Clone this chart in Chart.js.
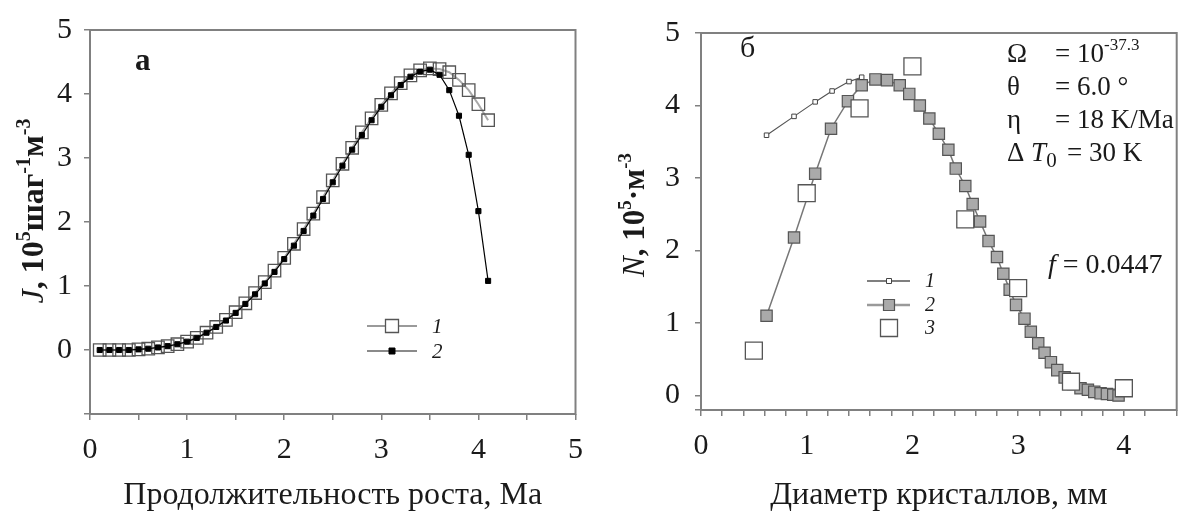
<!DOCTYPE html>
<html><head><meta charset="utf-8">
<script src="https://cdn.jsdelivr.net/npm/chart.js@4.4.1/dist/chart.umd.min.js"></script>
<style>
html,body{margin:0;padding:0;background:#fff;}
#wrap{position:relative;width:1190px;height:515px;overflow:hidden;}
.pane{position:absolute;top:0;width:595px;height:515px;}
</style></head><body>
<div id="wrap">
<div class="pane" style="left:0"><canvas id="cA" width="595" height="515"></canvas></div>
<div class="pane" style="left:595px"><canvas id="cB" width="595" height="515"></canvas></div>
</div>
<script>
// ---------- Panel а : rate J vs growth duration ----------
const timeA = [0.1,0.2,0.3,0.4,0.5,0.6,0.7,0.8,0.9,1.0,1.1,1.2,1.3,1.4,1.5,1.6,1.7,1.8,1.9,2.0,
               2.1,2.2,2.3,2.4,2.5,2.6,2.7,2.8,2.9,3.0,3.1,3.2,3.3,3.4,3.5,3.6,3.7,3.8,3.9,4.0,4.1];
const jSeries1 = [0.00,0.00,0.00,0.00,0.01,0.02,0.04,0.06,0.09,0.13,0.19,0.27,0.36,0.47,0.59,0.73,0.89,1.06,1.24,1.44,
                  1.66,1.89,2.13,2.39,2.65,2.91,3.16,3.40,3.62,3.83,4.01,4.17,4.29,4.37,4.40,4.39,4.34,4.22,4.06,3.84,3.59];
const jSeries2 = [0.00,0.00,0.00,0.00,0.01,0.02,0.04,0.06,0.09,0.13,0.19,0.27,0.36,0.46,0.58,0.72,0.87,1.04,1.22,1.42,
                  1.63,1.86,2.10,2.36,2.62,2.88,3.13,3.36,3.59,3.80,3.98,4.14,4.27,4.35,4.38,4.30,4.06,3.66,3.05,2.17,1.08];
const xTickLabelsA = [0,1,2,3,4,5];
const yTickLabelsA = [0,1,2,3,4,5];

// ---------- Panel б : crystal size distribution ----------
const diam1 = [0.62,0.88,1.08,1.24,1.40,1.52];
const nSeries1 = [3.59,3.85,4.05,4.20,4.33,4.39];
const diam2 = [0.62,0.88,1.08,1.23,1.39,1.52,1.65,1.76,1.88,1.97,2.07,2.16,2.25,2.34,2.41,2.50,2.57,2.64,2.72,2.80,
               2.86,2.92,2.98,3.06,3.12,3.19,3.25,3.31,3.37,3.44,3.52,3.59,3.66,3.72,3.78,3.84,3.90,3.95];
const nSeries2 = [1.10,2.18,3.06,3.68,4.06,4.28,4.36,4.35,4.28,4.16,4.00,3.82,3.61,3.39,3.13,2.89,2.64,2.40,2.13,1.91,
                  1.68,1.46,1.25,1.06,0.88,0.72,0.59,0.46,0.35,0.25,0.16,0.10,0.08,0.05,0.03,0.02,0.01,0.00];
const diam3 = [0.5,1.0,1.5,2.0,2.5,3.0,3.5,4.0];
const nSeries3 = [0.62,2.79,3.96,4.54,2.43,1.48,0.19,0.10];
const xTickLabelsB = [0,1,2,3,4];
const yTickLabelsB = [0,1,2,3,4,5];

const SERIF = '"Liberation Serif","Times New Roman",serif';
const F = (style, size) => `${style} ${size}px ${SERIF}`;
const TXT = '#1a1a1a';
const AX = '#808080';

const pts = (xs, ys) => xs.map((x, i) => ({x, y: ys[i]}));
const labelIf = (list) => (v) => {
  const r = Math.round(v);
  return (Math.abs(v - r) < 1e-6 && list.includes(r)) ? String(r) : '';
};

function rich(ctx, segs, x, y, align, rot) {
  ctx.save();
  ctx.translate(x, y);
  if (rot) ctx.rotate(rot);
  let w = 0;
  segs.forEach(s => { ctx.font = s.f; s.w = ctx.measureText(s.t).width; w += s.w; });
  let cx = align === 'center' ? -w / 2 : (align === 'right' ? -w : 0);
  ctx.textBaseline = 'alphabetic';
  ctx.textAlign = 'left';
  segs.forEach(s => { ctx.font = s.f; ctx.fillStyle = s.c || TXT; ctx.fillText(s.t, cx, s.dy || 0); cx += s.w; });
  ctx.restore();
}
function sq(ctx, x, y, side, fill, stroke, lw) {
  ctx.beginPath(); ctx.rect(x - side / 2, y - side / 2, side, side);
  if (fill) { ctx.fillStyle = fill; ctx.fill(); }
  if (stroke) { ctx.strokeStyle = stroke; ctx.lineWidth = lw; ctx.stroke(); }
}
function seg(ctx, x1, x2, y, color, lw) {
  ctx.beginPath(); ctx.moveTo(x1, y); ctx.lineTo(x2, y);
  ctx.strokeStyle = color; ctx.lineWidth = lw; ctx.stroke();
}

const frame = {
  id: 'frame',
  afterDraw(chart) {
    const {ctx, chartArea: a} = chart;
    ctx.save();
    ctx.strokeStyle = AX; ctx.lineWidth = 2;
    ctx.strokeRect(a.left, a.top, a.right - a.left, a.bottom - a.top);
    ctx.restore();
  }
};

function axisCfg(min, max, step, list, pad, fit, tickValues) {
  const cfg = {
    type: 'linear', min, max,
    border: {display: false},
    grid: {drawOnChartArea: false, drawTicks: true, tickLength: 6, color: AX, lineWidth: 1.5},
    ticks: {stepSize: step, autoSkip: false, maxRotation: 0, padding: pad,
            color: TXT, font: {family: SERIF, size: 30}, callback: labelIf(list)},
    afterFit: fit
  };
  if (tickValues) cfg.afterBuildTicks = s => { s.ticks = tickValues.map(v => ({value: v})); };
  return cfg;
}

const baseOpts = {
  responsive: false, animation: false, events: [],
  plugins: {legend: {display: false}, tooltip: {enabled: false}},
};

// ---- Chart а ----
const decoA = {
  id: 'decoA',
  afterDraw(chart) {
    const ctx = chart.ctx;
    const a = chart.chartArea;
    rich(ctx, [{t: 'Продолжительность роста, Ма', f: F('normal', 32)}], (a.left + a.right) / 2, 504, 'center');
    rich(ctx, [
      {t: 'J', f: F('italic', 32)}, {t: ', 10', f: F('bold', 32)}, {t: '5', f: F('bold', 20), dy: -13},
      {t: 'шаг', f: F('bold', 32)}, {t: '-1', f: F('bold', 20), dy: -13},
      {t: 'м', f: F('bold', 32)}, {t: '-3', f: F('bold', 20), dy: -13}
    ], 43, 211, 'center', -Math.PI / 2);
    rich(ctx, [{t: 'а', f: F('bold', 31)}], 135, 70, 'left');
    // legend
    seg(ctx, 367, 417, 326, '#9a9a9a', 2.2);
    sq(ctx, 392, 326, 13, '#fff', '#555', 1.3);
    seg(ctx, 367, 417, 351, '#8a8a8a', 2.2);
    sq(ctx, 392, 351, 6, '#000', '#000', 1);
    rich(ctx, [{t: '1', f: F('italic', 21)}], 432, 333, 'left');
    rich(ctx, [{t: '2', f: F('italic', 21)}], 432, 358, 'left');
  }
};

new Chart(document.getElementById('cA'), {
  type: 'scatter',
  data: {
    datasets: [
      {label: '2', data: pts(timeA, jSeries2), showLine: true, order: 0,
       borderColor: '#000', borderWidth: 1.2, pointStyle: 'rect', pointRadius: 3.6,
       pointBackgroundColor: '#000', pointBorderColor: '#000', pointBorderWidth: 1},
      {label: '1', data: pts(timeA, jSeries1), showLine: true, order: 1,
       borderColor: '#a8a8a8', borderWidth: 2, pointStyle: 'rect', pointRadius: 8.8,
       pointBackgroundColor: 'rgba(255,255,255,0)', pointBorderColor: '#555', pointBorderWidth: 1.3}
    ]
  },
  options: Object.assign({}, baseOpts, {
    layout: {padding: {top: 19, right: 17, left: 0, bottom: 0}},
    scales: {
      x: axisCfg(0, 5, 0.5, xTickLabelsA, 12, s => { s.height = 101; }),
      y: axisCfg(-1, 5, 1, yTickLabelsA, 12, s => { s.width = 90; })
    }
  }),
  plugins: [frame, decoA]
});

// ---- Chart б ----
const decoB = {
  id: 'decoB',
  afterDraw(chart) {
    const ctx = chart.ctx;
    const a = chart.chartArea;
    rich(ctx, [{t: 'Диаметр кристаллов, мм', f: F('normal', 32)}], (a.left + a.right) / 2, 504, 'center');
    rich(ctx, [
      {t: 'N', f: F('italic', 31)}, {t: ', 10', f: F('bold', 31)}, {t: '5', f: F('bold', 19), dy: -13},
      {t: '·м', f: F('bold', 31)}, {t: '-3', f: F('bold', 19), dy: -13}
    ], 49, 215, 'center', -Math.PI / 2);
    rich(ctx, [{t: 'б', f: F('normal', 30)}], 145, 57, 'left');
    const P = F('normal', 27);
    rich(ctx, [{t: 'Ω', f: P}], 412, 62, 'left');
    rich(ctx, [{t: '= 10', f: P}, {t: '-37.3', f: F('normal', 17), dy: -12}], 460, 62, 'left');
    rich(ctx, [{t: 'θ', f: P}], 412, 95, 'left');
    rich(ctx, [{t: '= 6.0 °', f: P}], 460, 95, 'left');
    rich(ctx, [{t: 'η', f: P}], 412, 128, 'left');
    rich(ctx, [{t: '= 18 K/Ma', f: P}], 460, 128, 'left');
    rich(ctx, [{t: 'Δ ', f: P}, {t: 'T', f: F('italic', 27)}, {t: '0', f: F('normal', 21), dy: 6}], 412, 161, 'left');
    rich(ctx, [{t: '= 30 K', f: P}], 472, 161, 'left');
    rich(ctx, [{t: 'f', f: F('italic', 28)}, {t: ' = 0.0447', f: F('normal', 28)}], 453, 273, 'left');
    // legend
    seg(ctx, 272, 315, 281, '#555', 1.3);
    sq(ctx, 294, 281, 5, '#fff', '#444', 1);
    seg(ctx, 272, 315, 305, '#9a9a9a', 2.5);
    sq(ctx, 294, 305, 11, '#aaa', '#555', 1.2);
    sq(ctx, 294, 328, 17, '#fff', '#555', 1.3);
    rich(ctx, [{t: '1', f: F('italic', 20)}], 330, 287, 'left');
    rich(ctx, [{t: '2', f: F('italic', 20)}], 330, 311, 'left');
    rich(ctx, [{t: '3', f: F('italic', 20)}], 330, 334, 'left');
  }
};

const yMinB = -0.2;
new Chart(document.getElementById('cB'), {
  type: 'scatter',
  data: {
    datasets: [
      {label: '3', data: pts(diam3, nSeries3), showLine: false, order: 0,
       pointStyle: 'rect', pointRadius: 12, pointBackgroundColor: '#fff',
       pointBorderColor: '#555', pointBorderWidth: 1.3},
      {label: '1', data: pts(diam1, nSeries1), showLine: true, order: 1,
       borderColor: '#555', borderWidth: 1.2, pointStyle: 'rect', pointRadius: 3.2,
       pointBackgroundColor: '#fff', pointBorderColor: '#444', pointBorderWidth: 1},
      {label: '2', data: pts(diam2, nSeries2), showLine: true, order: 2,
       borderColor: '#777', borderWidth: 1.5, pointStyle: 'rect', pointRadius: 8,
       pointBackgroundColor: '#aaa', pointBorderColor: '#555', pointBorderWidth: 1.2}
    ]
  },
  options: Object.assign({}, baseOpts, {
    layout: {padding: {top: 19, right: 2, left: 0, bottom: 0}},
    scales: {
      x: axisCfg(0, 4.5, 0.2, xTickLabelsB, 12, s => { s.height = 105; }),
      y: axisCfg(yMinB, 5, 1, yTickLabelsB, 15, s => { s.width = 106; }, [yMinB].concat(yTickLabelsB))
    }
  }),
  plugins: [frame, decoB]
});
</script>
</body></html>
